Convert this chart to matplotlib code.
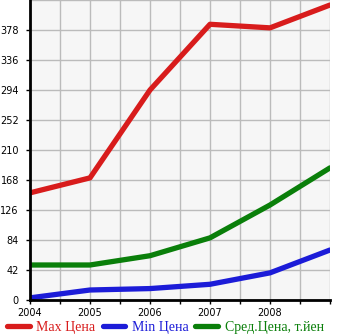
import matplotlib
matplotlib.use("Agg")
import matplotlib.pyplot as plt

years = [2004, 2005, 2006, 2007, 2008, 2009]
max_price = [150, 171, 294, 386, 381, 413]
min_price = [3, 14, 16, 22, 38, 70]
avg_price = [49, 49, 62, 87, 133, 185]
y_ticks = [0, 42, 84, 126, 168, 210, 252, 294, 336, 378]
x_ticks = [2004, 2005, 2006, 2007, 2008]

red = "#d81c1c"
blue = "#1c1cd8"
green = "#0a7f0a"

fig = plt.figure(figsize=(3.45, 3.35), dpi=100)
ax = fig.add_axes([30 / 345, 35 / 335, 300 / 345, 300 / 335])
ax.set_facecolor("#f6f6f6")

ax.plot(years, max_price, color=red, lw=3.8, solid_capstyle="round", label="Max Цена")
ax.plot(years, min_price, color=blue, lw=3.8, solid_capstyle="round", label="Min Цена")
ax.plot(years, avg_price, color=green, lw=3.8, solid_capstyle="round", label="Сред.Цена, т.йен")

ax.set_xlim(2004, 2009)
ax.set_ylim(0, 420)
ax.set_yticks(y_ticks)
ax.set_yticks([420], minor=True)
ax.set_xticks(x_ticks)
ax.set_xticks([2004.5, 2005.5, 2006.5, 2007.5, 2008.5, 2009], minor=True)
ax.grid(True, which="both", color="#bbbbbb", lw=1)
ax.set_axisbelow(True)
ax.tick_params(axis="y", which="minor", length=0)
ax.tick_params(axis="y", which="major", length=3, width=1, labelsize=7, pad=5)
ax.tick_params(axis="x", which="both", length=3, width=1, labelsize=7, pad=3)

for s in ["top", "right"]:
    ax.spines[s].set_visible(False)
for s in ["left", "bottom"]:
    ax.spines[s].set_linewidth(2)
    ax.spines[s].set_zorder(5)

leg = fig.legend(loc="lower left", bbox_to_anchor=(-0.015, -0.035), ncol=3, frameon=False,
                 handlelength=1.6, handletextpad=0.5, columnspacing=0.5,
                 prop={"family": "Liberation Serif", "size": 10}, labelcolor="linecolor")

plt.savefig("out.png", dpi=100)
